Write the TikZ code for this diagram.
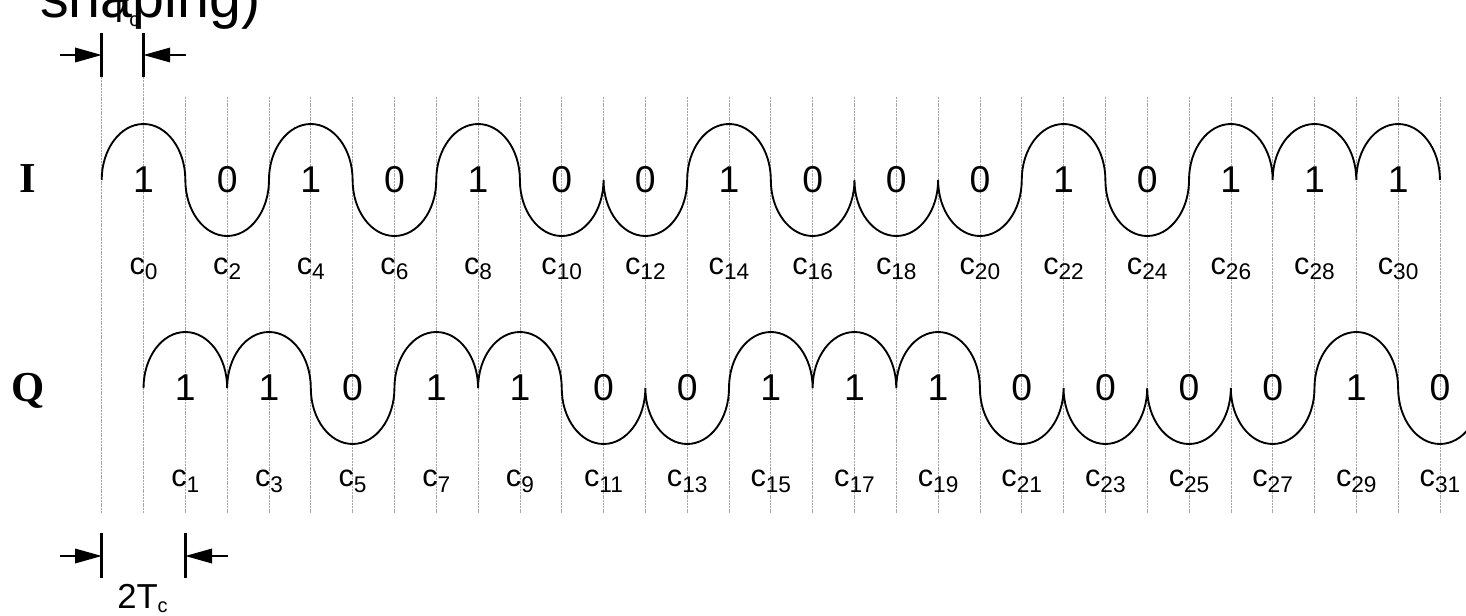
\documentclass[tikz,border=0pt]{standalone}
\usepackage{fontspec}
\setmainfont{Liberation Sans}
\newfontfamily\chanfont{Liberation Serif}
\usetikzlibrary{arrows.meta}

% chip label c_n
\newcommand{\chip}[1]{{\fontsize{23}{23}\selectfont c}\raisebox{-4.5pt}{\fontsize{17}{17}\selectfont #1}}

\tikzset{
  grid line/.style={gray!70, line width=0.5pt, dash pattern=on 1.5pt off 0.6pt},
  wave/.style={line width=1.4pt},
  bit/.style={font=\fontsize{28}{28}\selectfont, inner sep=0pt},
  chiplbl/.style={anchor=base, inner sep=0pt},
  chan/.style={anchor=base, inner sep=0pt, font=\chanfont\bfseries\fontsize{32}{32}\selectfont},
  dimbar/.style={line width=2.2pt},
  dimarrow/.style={line width=0.9pt, -{Triangle[length=20pt,width=11pt]}},
  dimlbl/.style={anchor=base west, inner sep=0pt, font=\fontsize{26}{26}\selectfont},
}

\begin{document}
\begin{tikzpicture}[x=0.75pt,y=0.75pt]
    \def\tc{41.82}
    \def\xo{101.7}
    \useasboundingbox (0,0) rectangle (1466,615);
    \clip (0,0) rectangle (1466,615);
    %
    %chip grid
    \foreach \k in {0,1} {
        \draw[grid line] ({\xo+\k*\tc}, 538) -- ({\xo+\k*\tc}, 102);
    }
    \foreach \k in {2,...,32} {
        \draw[grid line] ({\xo+\k*\tc}, 518) -- ({\xo+\k*\tc}, 102);
    }
    %
    %title remainder
    \node[anchor=base west, inner sep=0pt, font=\fontsize{43}{43}\selectfont] (title) at (40, 597) {shaping)};
    %
    %channel names
    \node[chan] (I) at (28, 422) {I};
    \node[chan] (Q) at (28, 214) {Q};
    %
    %I channel (even chips)
    \coordinate (Istart) at (\xo, 435);
    \draw[wave] (Istart) \foreach \b in {1,0,1,0,1,0,0,1,0,0,0,1,0,1,1,1} {
        arc[start angle=180, end angle={360-360*\b}, x radius=\tc, y radius=56]
    };
    \foreach \b [count=\i from 0] in {1,0,1,0,1,0,0,1,0,0,0,1,0,1,1,1} {
        \pgfmathtruncatemacro\n{2*\i}
        \node[bit] (ib\n) at ({\xo+(2*\i+1)*\tc}, 435) {\b};
        \node[chiplbl] (ic\n) at ({\xo+(2*\i+1)*\tc}, 341) {\chip{\n}};
    }
    %
    %Q channel (odd chips), delayed by Tc
    \coordinate (Qstart) at (\xo+\tc, 227);
    \draw[wave] (Qstart) \foreach \b in {1,1,0,1,1,0,0,1,1,1,0,0,0,0,1,0} {
        arc[start angle=180, end angle={360-360*\b}, x radius=\tc, y radius=56]
    };
    \foreach \b [count=\i from 0] in {1,1,0,1,1,0,0,1,1,1,0,0,0,0,1,0} {
        \pgfmathtruncatemacro\n{2*\i+1}
        \node[bit] (qb\n) at ({\xo+(2*\i+2)*\tc}, 227) {\b};
        \node[chiplbl] (qc\n) at ({\xo+(2*\i+2)*\tc}, 129) {\chip{\n}};
    }
    %
    %Tc
    \coordinate (tcL) at (\xo, 560);
    \coordinate (tcR) at (\xo+\tc, 560);
    \coordinate (tcLout) at (60, 560);
    \coordinate (tcRout) at (186, 560);
    \draw[dimbar] (tcL) ++(0,22) -- ++(0,-44);
    \draw[dimbar] (tcR) ++(0,22) -- ++(0,-44);
    \draw[dimarrow] (tcLout) -- (tcL);
    \draw[dimarrow] (tcRout) -- (tcR);
    \node[dimlbl] (tclbl) at (108, 592) {T\raisebox{-3pt}{\fontsize{15}{15}\selectfont c}};
    %
    %2Tc
    \coordinate (ttcL) at (\xo, 59);
    \coordinate (ttcR) at (\xo+2*\tc, 59);
    \coordinate (ttcLout) at (60, 59);
    \coordinate (ttcRout) at (228, 59);
    \draw[dimbar] (ttcL) ++(0,23) -- ++(0,-45);
    \draw[dimbar] (ttcR) ++(0,23) -- ++(0,-45);
    \draw[dimarrow] (ttcLout) -- (ttcL);
    \draw[dimarrow] (ttcRout) -- (ttcR);
    \node[dimlbl] (ttclbl) at (117, 7) {2T\raisebox{-3pt}{\fontsize{15}{15}\selectfont c}};
    %
\end{tikzpicture}
\end{document}
